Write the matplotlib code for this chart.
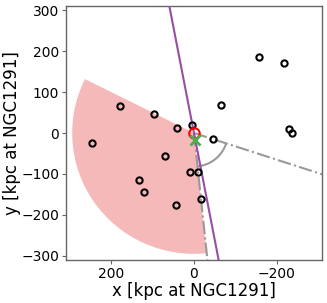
import numpy as np
import matplotlib
matplotlib.use("Agg")
import matplotlib.pyplot as plt
from matplotlib.patches import Wedge, Arc

# satellite positions [kpc]
sat_x = [178, 97, 247, -158, -218, -66, 41, 5, -47, -230, -238, 70, 9, -10, 133, 120, 43, -18]
sat_y = [65, 47, -25, 185, 171, 69, 12, 20, -15, 9, -1, -55, -95, -95, -115, -143, -175, -162]

host_xy = (0, 0)
cand_xy = (-2, -17)

wedge_radius = 295
wedge_theta = (-96, 26.5)
ref_angles = (-96, 198)
arc_radius = 82
plane_angle = 79.1

xlim = (310, -310)
ylim = (-310, 310)
xticks = [200, 0, -200]
yticks = [-300, -200, -100, 0, 100, 200, 300]

fig = plt.figure(figsize=(3.27, 3.03), dpi=100)
ax = fig.add_axes([0.2018, 0.142, 0.7829, 0.838])

ax.add_patch(Wedge(host_xy, wedge_radius, wedge_theta[0], wedge_theta[1],
                   facecolor='#e41a1c', alpha=0.3, edgecolor='none', zorder=1))

L = 500
for a in ref_angles:
    t = np.deg2rad(a)
    ax.plot([host_xy[0], host_xy[0] + L * np.cos(t)], [host_xy[1], host_xy[1] + L * np.sin(t)],
            color='0.6', ls='-.', lw=1.5, zorder=2)
ax.add_patch(Arc(host_xy, 2 * arc_radius, 2 * arc_radius, theta1=ref_angles[1], theta2=360 + ref_angles[0],
                 color='0.6', lw=1.5, zorder=2))

t = np.deg2rad(plane_angle)
ax.plot([-L * np.cos(t), L * np.cos(t)], [-L * np.sin(t), L * np.sin(t)],
        color='#984ea3', lw=1.5, zorder=3)

ax.plot(sat_x, sat_y, 'o', ms=4.5, mfc='none', mec='black', mew=1.5, ls='none', zorder=4)
ax.plot([host_xy[0]], [host_xy[1]], 'o', ms=7.5, mfc='none', mec='red', mew=1.5, zorder=5)
ax.plot([cand_xy[0]], [cand_xy[1]], 'x', ms=7, color='#4daf4a', mew=2, zorder=6)

ax.set_xlim(*xlim)
ax.set_ylim(*ylim)
ax.set_xticks(xticks)
ax.set_yticks(yticks)
ax.tick_params(labelsize=10, length=3, width=0.8, color='0.4', pad=2)
for s in ax.spines.values():
    s.set_color('0.4')
    s.set_linewidth(1.0)
ax.set_xlabel('x [kpc at NGC1291]', fontsize=12, labelpad=1)
ax.set_ylabel('y [kpc at NGC1291]', fontsize=12, labelpad=0)

fig.savefig('out.png', dpi=100)
